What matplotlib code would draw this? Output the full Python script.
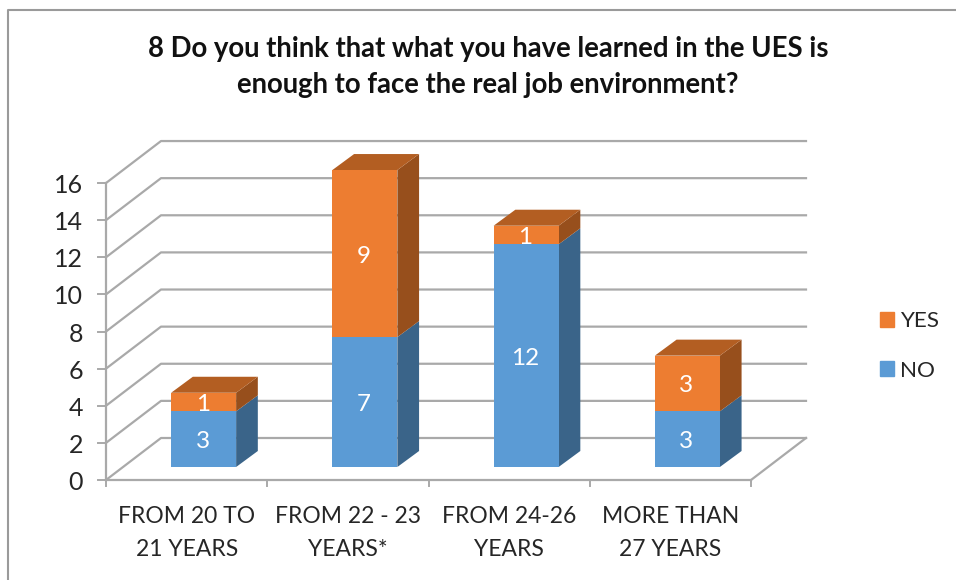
import matplotlib
matplotlib.use("Agg")
import matplotlib.pyplot as plt
from matplotlib.patches import Patch, Polygon

plt.rcParams["font.family"] = ["Lato", "DejaVu Sans"]

TITLE = "8 Do you think that what you have learned in the UES is\nenough to face the real job environment?"
categories = ["FROM 20 TO\n21 YEARS", "FROM 22 - 23\nYEARS*", "FROM 24-26\nYEARS", "MORE THAN\n27 YEARS"]
no_values = [3, 7, 12, 3]
yes_values = [1, 9, 1, 3]
y_ticks = [0, 2, 4, 6, 8, 10, 12, 14, 16]

# pixel scale of the reference plot, the data coords are built on this
X_UNIT = 161.25
Y_UNIT = 18.56
X0 = 106
Y0 = 480
WALL_DX = 55 / X_UNIT
WALL_DY = 42 / Y_UNIT
BAR_W = 65 / X_UNIT
BAR_SHIFT_X = 17 / X_UNIT
BAR_SHIFT_Y = 13 / Y_UNIT
DEPTH_DX = 21.7 / X_UNIT
DEPTH_DY = 16 / Y_UNIT
TEXT_DROP = 2.5 / Y_UNIT  # text sits a bit lower than va=center gives

GRID = "#a9a9a9"
BLUE = "#5b9bd5"
BLUE_SIDE = "#3a6489"
ORANGE = "#ed7d31"
ORANGE_TOP = "#b35e22"
ORANGE_SIDE = "#974f1c"
TEXT = "#262626"

fig = plt.figure(figsize=(9.56, 5.8), dpi=100)
ax = fig.add_axes([0, 0, 1, 1])
ax.set_xlim(-X0 / X_UNIT, (956 - X0) / X_UNIT)
ax.set_ylim((Y0 - 580) / Y_UNIT, Y0 / Y_UNIT)
ax.axis("off")

# chart frame, only top and left show in the reference
px = lambda v: (v - X0) / X_UNIT
py = lambda v: (Y0 - v) / Y_UNIT
ax.plot([px(8), px(8), px(956)], [py(580), py(10), py(10)], color="#9a9a9a", lw=1.5, zorder=1)

n = len(categories)
for t in y_ticks:
    ax.plot([0, WALL_DX, n + WALL_DX], [t, t + WALL_DY, t + WALL_DY], color=GRID, lw=1.6, zorder=1)
    ax.plot([-8 / X_UNIT, 0], [t, t], color=GRID, lw=1.4, zorder=1)
    ax.text(-23 / X_UNIT, t - TEXT_DROP, str(t), ha="right", va="center", fontsize=18, color=TEXT)

# floor and axes
ax.plot([0, 0], [0, y_ticks[-1]], color=GRID, lw=1.6, zorder=1)
ax.plot([0, n], [0, 0], color=GRID, lw=1.6, zorder=1)
ax.plot([n, n + WALL_DX], [0, WALL_DY], color=GRID, lw=1.6, zorder=1)
for i in range(n + 1):
    ax.plot([i, i], [0, -6 / Y_UNIT], color=GRID, lw=1.4, zorder=1)

centers = [i + 0.5 + BAR_SHIFT_X for i in range(n)]
no_bottom = [BAR_SHIFT_Y] * n
yes_bottom = [BAR_SHIFT_Y + v for v in no_values]
ax.bar(centers, no_values, BAR_W, bottom=no_bottom, color=BLUE, zorder=3)
ax.bar(centers, yes_values, BAR_W, bottom=yes_bottom, color=ORANGE, zorder=3)

for i, c in enumerate(centers):
    right = c + BAR_W / 2
    left = c - BAR_W / 2
    b0 = no_bottom[i]
    b1 = yes_bottom[i]
    b2 = b1 + yes_values[i]
    ax.add_patch(Polygon([(right, b0), (right + DEPTH_DX, b0 + DEPTH_DY),
                          (right + DEPTH_DX, b1 + DEPTH_DY), (right, b1)], color=BLUE_SIDE, lw=0, zorder=2))
    ax.add_patch(Polygon([(right, b1), (right + DEPTH_DX, b1 + DEPTH_DY),
                          (right + DEPTH_DX, b2 + DEPTH_DY), (right, b2)], color=ORANGE_SIDE, lw=0, zorder=2))
    ax.add_patch(Polygon([(left, b2), (right, b2), (right + DEPTH_DX, b2 + DEPTH_DY),
                          (left + DEPTH_DX, b2 + DEPTH_DY)], color=ORANGE_TOP, lw=0, zorder=2))
    ax.text(c - 1 / X_UNIT, b0 + no_values[i] / 2 - TEXT_DROP, str(no_values[i]), color="white",
            ha="center", va="center", fontsize=17.5, zorder=4)
    ax.text(c - 1 / X_UNIT, b1 + yes_values[i] / 2 - TEXT_DROP, str(yes_values[i]), color="white",
            ha="center", va="center", fontsize=17.5, zorder=4)

for i, label in enumerate(categories):
    ax.text(i + 0.5, py(533), label, ha="center", va="center", fontsize=16.5, color=TEXT, linespacing=1.67)

ax.text(px(488), py(67), TITLE, ha="center", va="center", fontsize=19.8, fontweight="bold", color="#111111", linespacing=1.47)

handles = [Patch(color=ORANGE, label="YES"), Patch(color=BLUE, label="NO")]
ax.legend(handles=handles, loc="center left", bbox_to_anchor=(860 / 956, 1 - 346 / 580), frameon=False,
          fontsize=16.2, labelcolor=TEXT, handlelength=0.62, handleheight=0.62, handletextpad=0.25, labelspacing=1.3)

fig.savefig("out.png", dpi=100)
